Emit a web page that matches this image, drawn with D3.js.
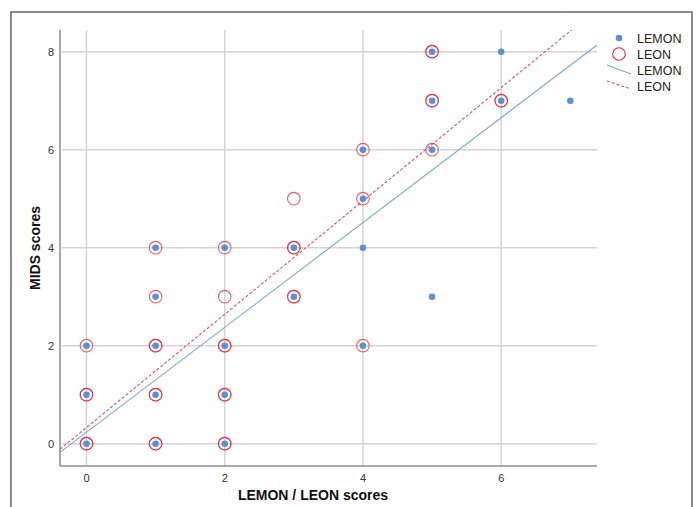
<!DOCTYPE html>
<html>
<head>
<meta charset="utf-8">
<script src="https://cdn.jsdelivr.net/npm/d3@7/dist/d3.min.js"></script>
<style>
  body { margin: 0; background: #fff; }
  text { font-family: Arial, "Liberation Sans", sans-serif; }
</style>
</head>
<body>
<svg id="canvas" width="696" height="507"></svg>
<script>
// LEMON scores vs MIDS scores (filled dots)
var lemonX = [0, 0, 0, 1, 1, 1, 1, 1, 2, 2, 2, 2, 3, 3, 4, 4, 4, 4, 5, 5, 5, 5, 6, 6, 7]
var lemonY = [0, 1, 2, 0, 1, 2, 3, 4, 0, 1, 2, 4, 3, 4, 2, 4, 5, 6, 3, 6, 7, 8, 7, 8, 7]
// LEON scores vs MIDS scores (open circles, repeats = overlapping cases)
var leonX = [0, 0, 0, 0, 0, 1, 1, 1, 1, 1, 1, 1, 1, 2, 2, 2, 2, 2, 2, 2, 2, 3, 3, 3, 3, 3, 4, 4, 4, 5, 5, 5, 5, 5, 6, 6]
var leonY = [0, 0, 1, 1, 2, 0, 0, 1, 1, 2, 2, 3, 4, 0, 0, 1, 1, 2, 2, 3, 4, 3, 3, 4, 4, 5, 2, 5, 6, 6, 7, 7, 8, 8, 7, 7]
// linear fit lines: [intercept, slope]
var lemonFit = [0.234, 1.07]
var leonFit = [0.33, 1.156]
var xTicks = [0, 2, 4, 6]
var yTicks = [0, 2, 4, 6, 8]

var blue = '#5b90d2'
var red = '#e3263f'
var svg = d3.select('#canvas')

// outer frame
svg.append('path')
  .attr('d', 'M11,510 V12 H692 V510')
  .attr('fill', 'none')
  .attr('stroke', '#666')
  .attr('stroke-width', 1.5)

var pLeft = 60
var pRight = 597
var pTop = 30
var pBottom = 466

var x = d3.scaleLinear().domain([-0.383, 7.386]).range([pLeft, pRight])
var y = d3.scaleLinear().domain([-0.455, 8.443]).range([pBottom, pTop])

var plot = svg.append('g')
plot.append('defs').append('clipPath').attr('id', 'clip')
  .append('rect').attr('x', pLeft).attr('y', pTop).attr('width', pRight - pLeft).attr('height', pBottom - pTop)

// grid
plot.selectAll('.vgrid').data(xTicks).enter().append('line')
  .attr('x1', function (d) { return x(d) }).attr('x2', function (d) { return x(d) })
  .attr('y1', pTop).attr('y2', pBottom)
  .attr('stroke', '#d4d4d4').attr('stroke-width', 1.5)
plot.selectAll('.hgrid').data(yTicks).enter().append('line')
  .attr('x1', pLeft + 2).attr('x2', pRight)
  .attr('y1', function (d) { return y(d) }).attr('y2', function (d) { return y(d) })
  .attr('stroke', '#d4d4d4').attr('stroke-width', 1.5)

// axes lines
plot.append('line').attr('x1', pLeft).attr('x2', pLeft).attr('y1', pTop).attr('y2', pBottom)
  .attr('stroke', '#8c8c8c').attr('stroke-width', 1.5)
plot.append('line').attr('x1', pLeft).attr('x2', pRight).attr('y1', pBottom).attr('y2', pBottom)
  .attr('stroke', '#8c8c8c').attr('stroke-width', 1.5)

// tick labels
plot.selectAll('.xt').data(xTicks).enter().append('text')
  .attr('x', function (d) { return x(d) }).attr('y', pBottom + 16)
  .attr('text-anchor', 'middle').attr('font-size', 11).attr('fill', '#333')
  .text(function (d) { return d })
plot.selectAll('.yt').data(yTicks).enter().append('text')
  .attr('x', pLeft - 6).attr('y', function (d) { return y(d) + 4 })
  .attr('text-anchor', 'end').attr('font-size', 11).attr('fill', '#333')
  .text(function (d) { return d })

// axis titles
svg.append('text').attr('x', 313).attr('y', 500)
  .attr('text-anchor', 'middle').attr('font-size', 14).attr('font-weight', 'bold').attr('fill', '#111')
  .text('LEMON / LEON scores')
svg.append('text').attr('transform', 'translate(40,' + 248 + ') rotate(-90)')
  .attr('text-anchor', 'middle').attr('font-size', 14).attr('font-weight', 'bold').attr('fill', '#111')
  .text('MIDS scores')

// fit lines
var fitG = plot.append('g').attr('clip-path', 'url(#clip)')
function fitLine (fit) {
  var x0 = x.domain()[0]
  var x1 = x.domain()[1]
  return [[x(x0), y(fit[0] + fit[1] * x0)], [x(x1), y(fit[0] + fit[1] * x1)]]
}
fitG.append('path').attr('d', d3.line()(fitLine(lemonFit)))
  .attr('stroke', '#79a6de').attr('stroke-width', 1.1).attr('fill', 'none')
fitG.append('path').attr('d', d3.line()(fitLine(leonFit)))
  .attr('stroke', '#ea4862').attr('stroke-width', 1.1).attr('stroke-dasharray', '3,2').attr('fill', 'none')

// points
plot.selectAll('.leon').data(leonX).enter().append('circle')
  .attr('cx', function (d) { return x(d) })
  .attr('cy', function (d, i) { return y(leonY[i]) })
  .attr('r', 6.3).attr('fill', 'none').attr('stroke', red).attr('stroke-width', 1.1)
  .attr('stroke-opacity', 0.75)
plot.selectAll('.lemon').data(lemonX).enter().append('circle')
  .attr('cx', function (d) { return x(d) })
  .attr('cy', function (d, i) { return y(lemonY[i]) })
  .attr('r', 3.3).attr('fill', blue)

// legend
var lg = svg.append('g')
lg.append('circle').attr('cx', 619).attr('cy', 38).attr('r', 3.3).attr('fill', blue)
lg.append('circle').attr('cx', 619).attr('cy', 54).attr('r', 6.3).attr('fill', 'none').attr('stroke', red).attr('stroke-width', 1.1)
lg.append('line').attr('x1', 607).attr('y1', 65).attr('x2', 631).attr('y2', 74)
  .attr('stroke', '#79a6de').attr('stroke-width', 1.1)
lg.append('line').attr('x1', 607).attr('y1', 81).attr('x2', 631).attr('y2', 89)
  .attr('stroke', '#ea4862').attr('stroke-width', 1.1).attr('stroke-dasharray', '3,2')
var legendLabels = ['LEMON', 'LEON', 'LEMON', 'LEON']
lg.selectAll('.lt').data(legendLabels).enter().append('text')
  .attr('x', 637).attr('y', function (d, i) { return 42.5 + i * 16 })
  .attr('font-size', 12.5).attr('fill', '#222')
  .text(function (d) { return d })
</script>
</body>
</html>
